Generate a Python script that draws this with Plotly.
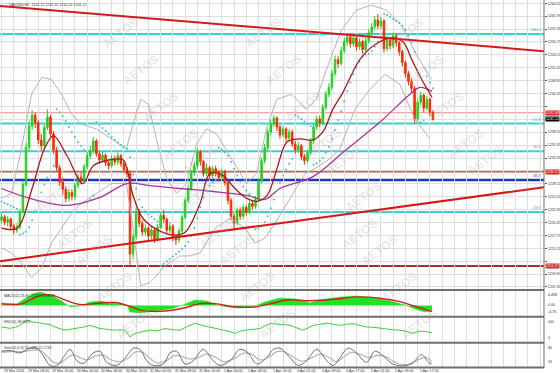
import plotly.graph_objects as go

# ---------------- data ----------------
bar_index = list(range(142))
opens = [1220.8,1221.5,1220.4,1221.0,1219.6,1218.8,1219.4,1222.5,1228.0,1235.5,1239.8,1242.0,1240.5,1237.0,1235.8,1239.5,1241.6,1238.2,1235.0,1231.4,
         1228.5,1227.0,1225.2,1226.4,1225.6,1227.8,1229.5,1228.9,1231.6,1233.8,1234.9,1236.8,1234.2,1233.0,1233.9,1232.4,1231.8,1233.2,1232.6,1233.8,
         1232.2,1231.0,1230.2,1214.0,1217.5,1222.6,1220.2,1218.4,1219.2,1217.6,1218.8,1217.0,1219.4,1221.8,1221.0,1218.8,1219.6,1217.4,1216.8,1218.6,
         1221.4,1224.8,1227.2,1230.4,1231.8,1234.6,1232.6,1230.2,1231.4,1229.8,1231.2,1230.4,1229.4,1230.6,1228.4,1224.8,1221.6,1220.2,1222.8,1221.6,
         1223.4,1222.4,1224.2,1223.6,1225.0,1228.6,1232.8,1235.4,1238.6,1240.2,1241.4,1239.6,1238.0,1239.2,1237.4,1238.6,1236.2,1235.0,1235.8,1233.6,
         1232.8,1234.4,1236.8,1239.6,1241.2,1240.4,1243.6,1246.2,1247.6,1250.4,1253.2,1252.4,1255.0,1256.8,1257.8,1256.4,1257.6,1255.8,1256.8,1255.2,
         1257.0,1258.6,1259.8,1261.2,1260.0,1261.0,1255.4,1257.2,1256.0,1258.0,1256.6,1254.8,1252.6,1250.4,1248.8,1247.4,1241.2,1244.6,1246.0,1243.4,
         1245.2,1242.6]
highs = [1222.3,1221.9,1221.6,1221.4,1220.1,1220.2,1223.1,1228.8,1236.4,1240.9,1243.0,1242.6,1241.0,1238.2,1240.1,1243.2,1242.0,1238.8,1235.6,1232.0,
         1229.4,1227.6,1227.2,1227.0,1228.4,1230.2,1230.4,1232.2,1234.6,1235.8,1237.6,1237.2,1234.8,1234.6,1234.3,1233.0,1233.9,1233.8,1234.5,1234.2,
         1232.8,1231.6,1230.8,1218.2,1223.4,1223.0,1220.8,1220.0,1219.6,1219.5,1219.2,1220.0,1222.4,1222.8,1221.4,1220.4,1220.0,1218.0,1219.2,1222.0,
         1225.4,1228.0,1231.0,1232.6,1235.4,1235.0,1233.0,1232.2,1231.8,1231.8,1231.8,1230.9,1231.2,1231.0,1228.9,1225.3,1222.2,1223.4,1223.4,1224.0,
         1223.9,1224.8,1224.9,1225.7,1229.2,1233.4,1236.2,1239.2,1241.0,1242.0,1241.8,1240.1,1239.9,1239.6,1239.2,1239.0,1236.8,1236.6,1236.2,1234.2,
         1235.0,1237.4,1240.2,1241.9,1241.8,1244.2,1246.9,1248.4,1251.2,1254.0,1253.9,1255.8,1257.6,1258.6,1258.4,1258.3,1258.0,1257.5,1257.2,1257.7,
         1259.3,1260.6,1262.0,1262.4,1261.8,1261.4,1258.0,1257.8,1258.7,1258.4,1257.0,1255.2,1253.0,1250.9,1249.4,1247.9,1245.2,1246.8,1246.4,1245.9,
         1245.6,1243.0]
lows = [1220.2,1219.8,1219.6,1218.9,1217.9,1218.2,1219.0,1222.1,1227.6,1234.8,1239.0,1239.4,1236.2,1234.9,1235.2,1239.0,1237.5,1234.2,1230.6,1227.7,
        1226.0,1224.4,1224.6,1224.8,1225.0,1227.2,1228.0,1228.4,1231.0,1233.2,1234.3,1233.6,1232.2,1232.5,1231.7,1231.0,1231.4,1231.9,1232.0,1231.6,
        1230.3,1229.4,1211.6,1212.8,1216.9,1219.4,1217.6,1217.8,1216.8,1217.0,1216.2,1216.6,1219.0,1220.2,1218.0,1218.2,1216.6,1215.8,1216.2,1218.2,
        1221.0,1224.2,1226.8,1229.8,1231.2,1231.8,1229.6,1229.8,1229.0,1229.2,1229.6,1228.6,1228.9,1227.8,1224.0,1220.8,1219.0,1219.8,1220.9,1221.0,
        1221.7,1222.0,1222.9,1223.1,1224.6,1228.2,1232.2,1234.9,1238.0,1239.6,1238.8,1237.2,1237.5,1236.6,1236.9,1235.6,1234.2,1234.4,1232.9,1232.0,
        1232.3,1234.0,1236.2,1239.0,1239.6,1240.0,1243.0,1245.6,1247.0,1249.8,1251.6,1251.9,1254.4,1256.0,1255.6,1255.8,1255.0,1255.2,1254.4,1254.8,
        1256.5,1258.0,1259.2,1259.3,1259.4,1254.6,1254.9,1255.2,1255.5,1255.8,1254.0,1251.8,1249.6,1248.0,1246.6,1240.4,1240.8,1244.0,1242.6,1242.9,
        1241.8,1240.9]
closes = [1221.5,1220.4,1221.0,1219.6,1218.8,1219.4,1222.5,1228.0,1235.5,1239.8,1242.0,1240.5,1237.0,1235.8,1239.5,1241.6,1238.2,1235.0,1231.4,1228.5,
          1227.0,1225.2,1226.4,1225.6,1227.8,1229.5,1228.9,1231.6,1233.8,1234.9,1236.8,1234.2,1233.0,1233.9,1232.4,1231.8,1233.2,1232.6,1233.8,1232.2,
          1231.0,1230.2,1214.0,1217.5,1222.6,1220.2,1218.4,1219.2,1217.6,1218.8,1217.0,1219.4,1221.8,1221.0,1218.8,1219.6,1217.4,1216.8,1218.6,1221.4,
          1224.8,1227.2,1230.4,1231.8,1234.6,1232.6,1230.2,1231.4,1229.8,1231.2,1230.4,1229.4,1230.6,1228.4,1224.8,1221.6,1220.2,1222.8,1221.6,1223.4,
          1222.4,1224.2,1223.6,1225.0,1228.6,1232.8,1235.4,1238.6,1240.2,1241.4,1239.6,1238.0,1239.2,1237.4,1238.6,1236.2,1235.0,1235.8,1233.6,1232.8,
          1234.4,1236.8,1239.6,1241.2,1240.4,1243.6,1246.2,1247.6,1250.4,1253.2,1252.4,1255.0,1256.8,1257.8,1256.4,1257.6,1255.8,1256.8,1255.2,1257.0,
          1258.6,1259.8,1261.2,1260.0,1261.0,1255.4,1257.2,1256.0,1258.0,1256.6,1254.8,1252.6,1250.4,1248.8,1247.4,1241.2,1244.6,1246.0,1243.4,1245.2,
          1242.6,1241.12]

# moving averages
ma_fast_bar = [0,5,10,14,17,21.4,26.6,30,35.4,39.7,41,43,46.2,51.8,56.7,60,64.9,68.1,72.4,76.3,80.2,83.5,86.8,90,93.3,97.5,101.8,105,108.3,111.6,117.1,122,127.6,131.2,134.1,136.8,140.7]
ma_fast_val = [1219.2,1219.2,1227.2,1235.2,1237.8,1233.8,1228.2,1231.8,1233.0,1233.0,1231.2,1225.8,1221.2,1218.6,1217.8,1218.4,1224.2,1230.2,1229.8,1227.2,1225.2,1224.6,1225.8,1231.2,1236.6,1237.2,1237.0,1238.6,1243.2,1246.6,1253.2,1256.2,1257.6,1256.8,1253.2,1249.8,1245.6]
ma_slow_bar = [0,9.3,21.4,32.2,41,48.5,58.3,69.1,80.2,86.1,91,101.8,112.2,123.7,133.5,136.8,140.7]
ma_slow_val = [1227.2,1225.2,1223.8,1225.4,1228.2,1227.8,1227.2,1226.6,1225.8,1225.0,1227.2,1229.6,1234.8,1240.6,1246.2,1247.6,1246.8]

# Bollinger bands
bb_up_bar = [0,3.3,6.5,9.8,13.1,16.3,19.6,22.9,26.1,31,35.9,40.8,43,45.5,48,51,54,57.2,60.5,63.7,67,70.3,75.2,80.1,83.3,86.6,89.9,94.8,99.7,102.9,106.2,111.1,116,120.9,125.8,130.7,135.6,140.5]
bb_up_val = [1225.2,1226.2,1235.2,1246.2,1249.6,1249.2,1246.2,1242.2,1240.2,1239.2,1237.2,1235.2,1240.2,1245.2,1244.2,1236.2,1229.2,1226.2,1228.2,1236.2,1239.2,1238.2,1233.2,1228.2,1230.2,1239.2,1245.2,1246.2,1243.2,1245.2,1251.2,1259.2,1263.2,1264.2,1263.2,1260.2,1254.2,1249.2]
bb_lo_bar = [0,3.3,6.5,9.8,13.1,16.3,19.6,22.9,26.1,31,35.9,40.8,43,45.5,48.5,53.4,58.3,61.6,64.9,69.8,74.7,79.6,82.8,86.1,89.4,94.3,99.2,102.4,107.3,110.6,115.5,120.4,125.3,130.2,135.1,140]
bb_lo_val = [1215.2,1214.2,1212.2,1209.2,1211.2,1216.2,1219.2,1222.2,1224.2,1226.2,1228.2,1228.2,1219.2,1207.6,1208.2,1211.6,1213.6,1213.6,1214.2,1219.2,1221.2,1219.2,1216.2,1217.2,1220.2,1225.2,1230.2,1231.2,1233.2,1235.2,1243.2,1247.2,1250.2,1248.2,1241.2,1237.2]

# parabolic SAR, one value per bar
sar_val = [1224.6,1224.3,1224.0,1223.7,1223.4,1223.1,1217.9,1218.1,1218.5,1219.4,1220.8,1222.6,1224.6,1226.4,1228.0,1229.4,1230.6,1231.8,
           1243.2,1242.6,1241.8,1240.8,1239.6,1238.6,1237.6,1236.6,1235.8,1235.0,1224.4,1225.0,1225.8,
           1240.6,1240.0,1239.4,1238.8,1238.2,1237.6,1237.0,1236.5,1236.0,1235.6,1235.2,1233.5,1230.0,1227.2,1225.0,1223.4,1222.6,1222.0,1221.5,1221.0,1220.6,
           1211.6,1212.0,1212.5,1213.0,1213.5,1214.0,1214.5,1215.0,1215.6,1216.4,1217.6,1219.2,1221.2,1223.4,1225.4,1226.8,1227.8,1228.4,1228.9,
           1235.4,1235.0,1234.5,1233.8,1232.6,1231.2,1229.8,1228.6,1227.6,1226.8,1226.1,1225.6,
           1219.0,1219.2,1219.6,1220.4,1221.6,1223.2,1225.0,1226.8,1228.4,1229.8,1231.0,1232.2,1233.2,
           1242.0,1241.6,1241.2,1240.7,1240.2,1239.8,
           1232.0,1232.3,1232.8,1233.4,1234.4,1235.6,1237.2,1239.0,1241.0,1242.8,1244.8,1246.8,1248.6,1250.2,1251.6,1252.8,1253.8,1254.2,1254.4,1255.0,1255.8,1256.8,1257.8,
           1262.4,1262.2,1261.8,1261.4,1261.0,1260.6,1260.0,1259.2,1258.0,1256.6,1254.8,
           1240.4,1240.6,1240.9,1249.8,1248.6,1247.4]

# horizontal objects / trendlines
fib_levels = [1258.36, 1240.31, 1234.70, 1222.46]
fib_names = ["100.0", "61.8", "50.0", "23.6"]
blue_level = 1228.91
blue_name = "38.2"
base_level = 1211.57
red_level = 1230.57
light_red_level = 1242.49
pink_level = 1256.81
last_price = 1241.12
trend_down_bar = [-0.5, 177.3]
trend_down_val = [1264.0, 1254.9]
trend_up_bar = [-0.5, 177.3]
trend_up_val = [1212.55, 1227.45]

# MACD
macd_bar = [0,5,7,10,12.6,15.8,19.1,22.4,25.6,28.9,32.2,37.1,41,42,45.3,50.2,55.1,59.3,63.2,67.1,71.4,77.9,82.8,86.1,91,95.9,100.8,104.1,110.6,116.2,122,127,131.9,135.1,138.4,140.7]
macd_val = [1.07,0.62,2.42,5.11,6.01,4.66,2.42,-0.72,-0.27,1.52,1.97,1.07,0.18,-2.96,-3.41,-2.52,-1.62,0.18,2.42,1.97,-0.27,-1.17,-0.27,1.52,3.32,2.87,1.07,2.42,3.77,4.21,3.32,1.97,0.18,-1.62,-2.96,-2.52]
signal_bar = [0,6.5,10,13.2,16.5,20.7,25.6,30.5,37.1,42,45.3,51.8,59.3,64.9,69.8,76.3,82.8,87.7,94.3,100.8,110.6,116.2,123.7,130.2,135.1,140.7]
signal_val = [0.7,0.7,2.9,4.6,4.6,2.5,0.4,0.8,1.3,-0.4,-2.1,-2.7,-1.3,0.8,0.8,-0.7,-0.7,0.7,2.5,2.1,3.0,3.8,3.2,1.7,-0.4,-2.8]
macd_axis_vals = [6.458, 0.0, -4.76]
macd_axis_text = ["6.458", "0.00", "-4.76"]

# RSI
rsi_bar = [0,1.5,2.8,4.5,6,8.3,10.3,12,14.2,16,17.5,19,20.7,22.5,24,26.5,28.9,30.5,32.2,34.5,37.1,39,40.3,42,43.6,46,48.5,51,53.4,56,58.3,60.5,63.2,65.5,68.1,70.5,73,74.8,76.3,78,79.6,82,84.5,86,87.7,89.5,91,92.7,94.3,96.5,98.5,100,101.8,104,106.4,108.5,110.6,112.7,114.9,117,119.4,121.5,123.7,126,128,130.2,132.4,134.5,136.8,138.7,140.7]
rsi_val = [61,58,56,60,68,90,81,79,75,70,61,55,48,52,55,60,68,62,55,52,48,50,48,21,35,42,48,45,55,50,48,62,77,68,61,55,48,42,35,44,48,50,55,66,75,74,71,70,68,58,48,56,68,72,77,72,68,72,75,68,61,60,56,54,50,48,44,35,45,42,38]
rsi_axis_vals = [100, 0]
rsi_axis_text = ["100", "0"]

# Stochastic
sto_bar = [0,2.8,6,9.3,11.5,13.7,15.8,18,20.2,22.4,24.6,26.7,30,32.2,34.4,37.6,40.9,43.1,45.3,47.4,49.6,52.9,55.1,57.2,60,62.7,65.9,69.2,71.4,74.7,77.9,80.6,83.4,86.7,88.8,91,94.3,97,99.7,103,106.3,108.4,110.6,113.3,116,119.3,122,124.8,127,129.1,132.4,134.6,137.3,139.5,140.6]
sto_val = [67,70,60,80,80,47,7,5,40,75,27,15,60,67,20,7,47,80,75,27,7,13,60,67,13,27,75,27,7,27,75,60,13,40,75,80,40,7,27,75,27,7,40,80,60,20,67,47,20,7,7,20,53,20,13]
sto_sig_bar = [0,3.5,7,10.5,12.8,15,17,19.3,21.5,23.5,25.6,28,31,33.4,35.6,38.7,41.6,44,46.4,48.5,51,54,56.2,58.5,61.3,64,67,70.2,72.6,75.9,79,81.7,84.5,87.7,90,92.2,95.4,98,100.8,104,107.4,109.5,111.7,114.4,117,120.4,123,125.8,128,130.2,133.5,135.7,138.4,140.6]
sto_sig_val = [62,66,66,72,70,45,20,17,40,52,40,30,48,50,32,22,40,65,60,37,17,27,47,47,35,38,55,40,22,35,58,55,30,45,65,65,42,25,35,55,38,22,42,62,55,40,50,42,25,12,12,27,42,22]
sto_axis_vals = [80, 20]
sto_axis_text = ["80", "20"]

time_label_bars = [0,8,16,24,32,40,48,56,64,72,80,88,96,104,112,120,128,136]
time_labels = ["29 Mar 2016","29 Mar 08:00","29 Mar 16:00","30 Mar 00:00","30 Mar 08:00","30 Mar 16:00",
               "31 Mar 00:00","31 Mar 08:00","31 Mar 16:00","1 Apr 00:00","1 Apr 08:00","1 Apr 16:00",
               "4 Apr 01:00","4 Apr 09:00","4 Apr 17:00","5 Apr 01:00","5 Apr 09:00","5 Apr 17:00"]
price_ticks = [1264.55,1261.95,1259.35,1256.75,1254.15,1251.55,1248.95,1246.35,1243.75,1241.15,1238.55,1235.95,1233.35,
               1230.75,1228.15,1225.55,1222.95,1220.35,1217.75,1215.15,1212.55,1209.95,1207.35]

# ---------------- figure ----------------
W, H = 560, 373
XR = [-0.5, 177.3]
XD = [0, 544 / W]
def pdom(top_px, bot_px):
    return [1 - bot_px / H, 1 - top_px / H]

FONT = "Liberation Sans, Arial, sans-serif"
fig = go.Figure()

# watermark
wm_ann = []
for k in range(10):
    for m in range(-1, 4):
        x = 97 + 166 * m + 20 * k
        y = 12 + 37 * k
        if 22 < x < 515 and y < 360:
            wm_ann.append(dict(x=x / W, y=1 - y / H, xref="paper", yref="paper", text="<b>AETOS</b>",
                               showarrow=False, textangle=-37,
                               font=dict(family=FONT, size=12, color="rgba(165,165,165,0.26)")))

# indicators main
fig.add_trace(go.Scatter(x=bb_up_bar, y=bb_up_val, mode="lines", line=dict(color="#b4b4b4", width=1), xaxis="x", yaxis="y"))
fig.add_trace(go.Scatter(x=bb_lo_bar, y=bb_lo_val, mode="lines", line=dict(color="#b4b4b4", width=1), xaxis="x", yaxis="y"))
fig.add_trace(go.Scatter(x=ma_slow_bar, y=ma_slow_val, mode="lines", line=dict(color="#b0309a", width=1.3, shape="spline"), xaxis="x", yaxis="y"))
fig.add_trace(go.Scatter(x=bar_index, y=sar_val, mode="markers", marker=dict(color="#3cc0d0", size=2), xaxis="x", yaxis="y"))
fig.add_trace(go.Candlestick(x=bar_index, open=opens, high=highs, low=lows, close=closes,
                             increasing=dict(line=dict(color="#1ed21e", width=1), fillcolor="#1ed21e"),
                             decreasing=dict(line=dict(color="#ff2800", width=1), fillcolor="#ff2800"),
                             whiskerwidth=0, xaxis="x", yaxis="y"))
fig.add_trace(go.Scatter(x=ma_fast_bar, y=ma_fast_val, mode="lines", line=dict(color="#b01818", width=1.3, shape="spline"), xaxis="x", yaxis="y"))
fig.add_trace(go.Scatter(x=trend_down_bar, y=trend_down_val, mode="lines", line=dict(color="#d81818", width=2), xaxis="x", yaxis="y"))
fig.add_trace(go.Scatter(x=trend_up_bar, y=trend_up_val, mode="lines", line=dict(color="#d81818", width=2), xaxis="x", yaxis="y"))

# MACD
fig.add_trace(go.Scatter(x=macd_bar, y=macd_val, mode="lines", fill="tozeroy", fillcolor="#22e022",
                         line=dict(color="#22e022", width=0.5), xaxis="x2", yaxis="y2"))
fig.add_trace(go.Scatter(x=signal_bar, y=signal_val, mode="lines", line=dict(color="#d02020", width=1.4, shape="spline"), xaxis="x2", yaxis="y2"))
# RSI
fig.add_trace(go.Scatter(x=rsi_bar, y=rsi_val, mode="lines", line=dict(color="#3ccc3c", width=1), xaxis="x3", yaxis="y3"))
# Stoch
fig.add_trace(go.Scatter(x=sto_sig_bar, y=sto_sig_val, mode="lines", line=dict(color="#b8b8b8", width=1.3, shape="spline"), xaxis="x4", yaxis="y4"))
fig.add_trace(go.Scatter(x=sto_bar, y=sto_val, mode="lines", line=dict(color="#6c6c6c", width=1, shape="spline"), xaxis="x4", yaxis="y4"))

shapes = []
def hline(level, color, width):
    shapes.append(dict(type="line", xref="paper", yref="y", x0=XD[0], x1=XD[1], y0=level, y1=level,
                       line=dict(color=color, width=width), layer="below"))
hline(pink_level, "#f2c4c4", 1)
hline(light_red_level, "#ef8f8f", 1)
hline(red_level, "#e05050", 1.4)
for lv in fib_levels:
    hline(lv, "#3ccfd0", 2)
hline(blue_level, "#1838c0", 2.5)
hline(base_level, "#b02a2a", 2)

# panel separators and frame
for ypx in [290, 316.8, 342.8, 367.5]:
    shapes.append(dict(type="line", xref="paper", yref="paper", x0=0, x1=XD[1], y0=1 - ypx / H, y1=1 - ypx / H,
                       line=dict(color="#6e6e6e", width=2)))
shapes.append(dict(type="line", xref="paper", yref="paper", x0=XD[1], x1=XD[1], y0=1 - 368 / H, y1=1,
                   line=dict(color="#6e6e6e", width=1)))

ann = []
small = dict(family=FONT, size=3.6, color="#303030")
# fib texts
for lv, nm in zip(fib_levels, fib_names):
    ann.append(dict(x=XD[1] - 0.003, y=lv, xref="paper", yref="y", text=nm, showarrow=False, xanchor="right",
                    yanchor="bottom", font=dict(family=FONT, size=3.6, color="#2aa8b0")))
ann.append(dict(x=XD[1] - 0.003, y=blue_level, xref="paper", yref="y", text=blue_name, showarrow=False, xanchor="right",
                yanchor="bottom", font=dict(family=FONT, size=3.6, color="#1838c0")))
# price tags
tags = [(light_red_level, "#e02020"), (last_price, "#000000"), (red_level, "#e02020"), (base_level, "#e02020")]
for lv, bg in tags:
    ann.append(dict(x=XD[1] + 0.002, y=lv, xref="paper", yref="y", text="%.2f" % lv, showarrow=False, xanchor="left",
                    yanchor="middle", bgcolor=bg, borderpad=0, font=dict(family=FONT, size=3.6, color="white")))
# price tick texts, hidden where a tag covers them
tag_vals = [t[0] for t in tags]
price_tick_text = []
for v in price_ticks:
    price_tick_text.append("" if min(abs(v - t) for t in tag_vals) < 1.4 else "%.2f" % v)

# sub-panel scale labels (top label hangs below its value, bottom label sits above)
def scale_labels(vals, texts, yref):
    for i, (v, t) in enumerate(zip(vals, texts)):
        if i == 0:
            anc = "top"
        elif i == len(vals) - 1:
            anc = "bottom"
        else:
            anc = "middle"
        ann.append(dict(x=XD[1] + 0.003, y=v, xref="paper", yref=yref, text=t, showarrow=False,
                        xanchor="left", yanchor=anc, font=small))
scale_labels(macd_axis_vals, macd_axis_text, "y2")
scale_labels(rsi_axis_vals, rsi_axis_text, "y3")
for v, t in zip(sto_axis_vals, sto_axis_text):
    ann.append(dict(x=XD[1] + 0.003, y=v, xref="paper", yref="y4", text=t, showarrow=False,
                    xanchor="left", yanchor="middle", font=small))

# titles
ann.append(dict(x=0.012, y=1 - 1 / H, xref="paper", yref="paper", xanchor="left", yanchor="top", showarrow=False,
                text="XAUUSD,H1  1241.22 1241.32 1241.02 1241.12", font=small))
ann.append(dict(x=0.004, y=1 - 292 / H, xref="paper", yref="paper", xanchor="left", yanchor="top", showarrow=False,
                text="MACD(12,26,9) -2.5214 -2.8036", font=small))
ann.append(dict(x=0.004, y=1 - 318 / H, xref="paper", yref="paper", xanchor="left", yanchor="top", showarrow=False,
                text="RSI(14) 38.4092", font=small))
ann.append(dict(x=0.004, y=1 - 344 / H, xref="paper", yref="paper", xanchor="left", yanchor="top", showarrow=False,
                text="Stoch(5,3,3) 13.0435 22.1739", font=small))
# time labels
for b, t in zip(time_label_bars, time_labels):
    ann.append(dict(x=b, y=1 - 370.5 / H, xref="x", yref="paper", xanchor="left", yanchor="middle", showarrow=False,
                    text=t, font=small))

gridc = "#dedede"
xcommon = dict(range=XR, domain=XD, showticklabels=False, showgrid=True, gridcolor=gridc, gridwidth=1,
               tick0=0, dtick=4, zeroline=False, showline=False, fixedrange=True)
ycommon = dict(side="right", showgrid=False, zeroline=False, showline=False, fixedrange=True)

fig.update_layout(
    width=W, height=H, autosize=False,
    margin=dict(l=0, r=0, t=0, b=0),
    paper_bgcolor="white", plot_bgcolor="white",
    showlegend=False,
    xaxis=dict(xcommon, anchor="y", rangeslider=dict(visible=False)),
    xaxis2=dict(xcommon, anchor="y2", matches="x"),
    xaxis3=dict(xcommon, anchor="y3", matches="x"),
    xaxis4=dict(xcommon, anchor="y4", matches="x"),
    yaxis=dict(ycommon, domain=pdom(0, 289), range=[1206.93, 1265.22], showgrid=True, gridcolor=gridc,
               tickvals=price_ticks, ticktext=price_tick_text, ticks="outside", ticklen=2, tickcolor="#555",
               tickfont=small),
    yaxis2=dict(ycommon, domain=pdom(291, 316), range=[-4.76, 6.458], showticklabels=False),
    yaxis3=dict(ycommon, domain=pdom(317.5, 342), range=[0, 100], showticklabels=False),
    yaxis4=dict(ycommon, domain=pdom(343.5, 367), range=[0, 100], showticklabels=False),
    shapes=shapes,
    annotations=wm_ann + ann,
)

fig.write_html("out.html", config={"displayModeBar": False, "staticPlot": True},
               post_script="document.body.style.margin='0';")
